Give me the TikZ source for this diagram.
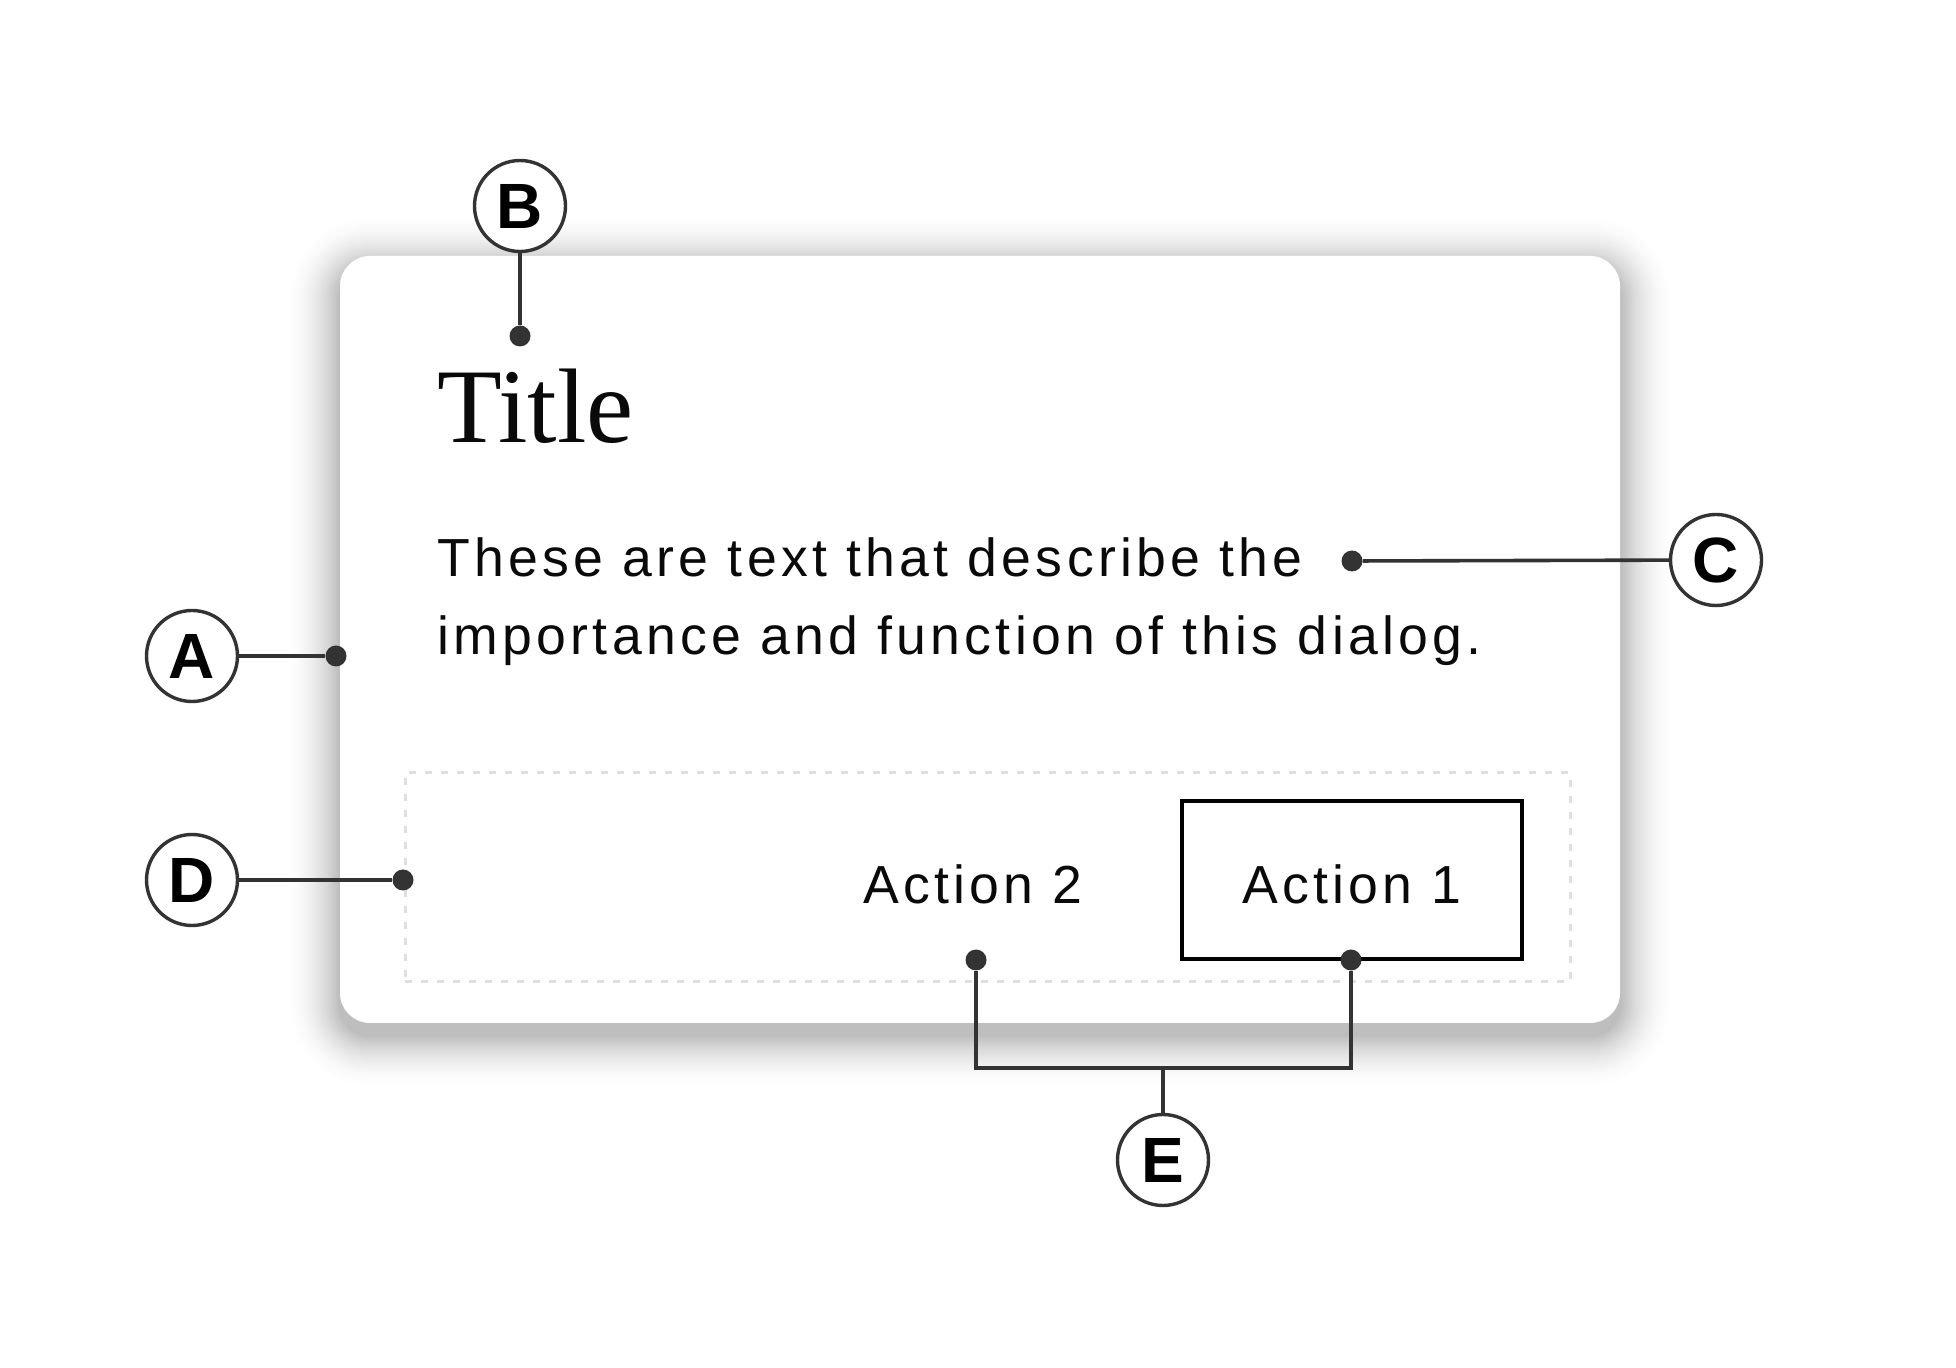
\documentclass[tikz,border=0pt]{standalone}
\usepackage{fontspec}
\setmainfont{Liberation Serif}
\newfontfamily\bodyfont[LetterSpace=8]{Liberation Sans}
\newfontfamily\tagfont{Liberation Sans}
\usetikzlibrary{positioning}
\definecolor{ink}{HTML}{333333}
\definecolor{dashgray}{HTML}{DFDFDF}
\definecolor{textblack}{HTML}{0A0A0A}

\begin{document}
\begin{tikzpicture}[
 x=0.5pt,y=-0.5pt,
 tag/.style={circle,draw=ink,line width=1.7pt,fill=white,minimum size=45.5pt,inner sep=0pt,font=\tagfont\bfseries\fontsize{32}{32}\selectfont},
 pin/.style={circle,fill=ink,minimum size=10.5pt,inner sep=0pt},
 lead/.style={draw=ink,line width=1.8pt},
 copy/.style={inner sep=0pt,text=textblack,font=\bodyfont\fontsize{26.8}{39}\selectfont}
]
\fill[white] (0,0) rectangle (1956,1368);
\useasboundingbox (0,0) rectangle (1956,1368);
% soft drop shadow below the card
\foreach \i [evaluate=\i as \op using {0.018*(29-\i)/28}, evaluate=\i as \gr using {2*\i}] in {1,...,28}
 \fill[black,opacity=\op,rounded corners=(30+\gr)*0.5pt] (340-\gr,268-\gr) rectangle (1620+\gr,1035+\gr);
\node[fill=white,rounded corners=15pt,minimum width=640pt,minimum height=383.5pt,inner sep=0pt] (card) at (980,639.5) {};

% texts of the dialog
\node[inner sep=0pt,anchor=base west,text=textblack,font=\fontsize{53}{53}\selectfont] (title) at (437,443) {Title};
\node[copy,anchor=base west] (descA) at (437,577) {These are text that describe the};
\node[copy,anchor=base west] (descB) at (437,655) {importance and function of this dialog.};

% button row
\node[draw=dashgray,line width=1.5pt,dash pattern=on 3.5pt off 4.5pt,minimum width=582.5pt,minimum height=104.5pt,inner sep=0pt] (actionbar) at (987.5,877.5) {};
\node[copy,draw=black,line width=1.65pt,minimum width=170pt,minimum height=79pt,text height=24pt,text depth=0pt] (primary) at (1352,880) {Action 1};
\node[copy,anchor=base] (secondary) at (973,904) {Action 2};

% anchor points
\node[pin] (pinA) at (336,656) {};
\node[pin] (pinB) at (520,336) {};
\node[pin] (pinC) at (1352,561) {};
\node[pin] (pinD) at (403,880) {};
\node[pin] (pinEa) at (976,960) {};
\node[pin] (pinEb) at (1351,960) {};
\coordinate (joinE) at (1163,1068);

% letter tags
\node[tag] (tagA) at (192,656) {A};
\node[tag] (tagB) at (520,206) {B};
\node[tag] (tagC) at (1716,560) {C};
\node[tag] (tagD) at (192,880) {D};
\node[tag] (tagE) at (1163,1160) {E};

\draw[lead] (tagA) -- (pinA);
\draw[lead] (tagB) -- (pinB);
\draw[lead] (pinC) -- (tagC);
\draw[lead] (tagD) -- (pinD);
\draw[lead] (pinEa) |- (joinE) -| (pinEb);
\draw[lead] (joinE) -- (tagE);
\end{tikzpicture}
\end{document}
